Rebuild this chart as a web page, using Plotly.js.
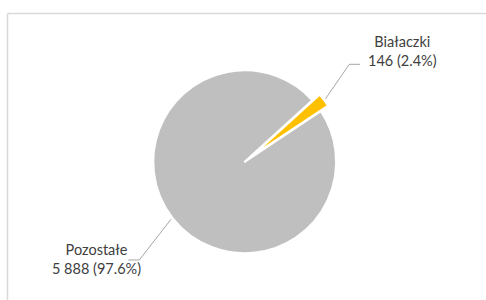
<!DOCTYPE html>
<html>
<head>
<meta charset="utf-8">
<script src="https://cdn.plot.ly/plotly-3.0.1.min.js"></script>
<style>html,body{margin:0;padding:0;background:#fff;}#chart{width:486px;height:300px;}</style>
</head>
<body>
<div id="chart"></div>
<script>
// ---- data ----
const labels = ['Białaczki', 'Pozostałe'];
const values = [146, 5888];
const colors = ['#FFC000', '#BFBFBF'];

// ---- layout parameters (pixels) ----
const W = 486, H = 300;
const cx = 244.7, cy = 161.8, R = 91.4;
const pulls = [0.1, 0];
const rotation = 47.7;
const maxPull = Math.max.apply(null, pulls);
const half = R * (1 + maxPull);

const px = x => x / W;
const py = y => 1 - y / H;

const total = values.reduce((a, b) => a + b, 0);
const fmt = v => String(v).replace(/\B(?=(\d{3})+(?!\d))/g, ' ');
const pct = v => (v / total * 100).toFixed(1) + '%';

// label placement (pixels): text center, elbow, end of horizontal segment
const labelPos = [
  {tx: 402, ty: 51, elbow: [349.3, 64.3], end: [360, 64.3]},
  {tx: 96, ty: 259, elbow: [139.3, 260], end: [128.3, 260]}
];

const annotations = [];
const shapes = [];
let cum = 0;
values.forEach((v, i) => {
  const mid = (rotation + (cum + v / 2) / total * 360) * Math.PI / 180;
  cum += v;
  const r = R * (1 + pulls[i]) + 2;
  const sx = cx + r * Math.sin(mid), sy = cy - r * Math.cos(mid);
  const L = labelPos[i];
  shapes.push({
    type: 'path', xref: 'paper', yref: 'paper',
    path: 'M' + px(sx) + ',' + py(sy) + ' L' + px(L.elbow[0]) + ',' + py(L.elbow[1]) +
          ' L' + px(L.end[0]) + ',' + py(L.end[1]),
    line: {color: '#A6A6A6', width: 1}
  });
  annotations.push({
    xref: 'paper', yref: 'paper', x: px(L.tx), y: py(L.ty),
    xanchor: 'center', yanchor: 'middle', showarrow: false, align: 'center',
    text: labels[i] + '<br>' + fmt(v) + ' (' + pct(v) + ')',
    font: {family: 'Lato, sans-serif', size: 14.5, color: '#404040'}
  });
});

// chart border (top and left visible)
shapes.push({type: 'line', xref: 'paper', yref: 'paper', x0: px(7.5), y0: py(13.5), x1: px(486), y1: py(13.5), line: {color: '#D9D9D9', width: 1.5}});
shapes.push({type: 'line', xref: 'paper', yref: 'paper', x0: px(7.5), y0: py(13.5), x1: px(7.5), y1: py(300), line: {color: '#D9D9D9', width: 1.5}});

const trace = {
  type: 'pie',
  labels: labels,
  values: values,
  sort: false,
  direction: 'clockwise',
  rotation: rotation,
  pull: pulls,
  textinfo: 'none',
  hoverinfo: 'label+value+percent',
  marker: {colors: colors, line: {color: '#FFFFFF', width: 2}},
  domain: {x: [px(cx - half), px(cx + half)], y: [py(cy + half), py(cy - half)]},
  showlegend: false
};

const layout = {
  width: W, height: H,
  margin: {l: 0, r: 0, t: 0, b: 0},
  paper_bgcolor: '#FFFFFF',
  showlegend: false,
  annotations: annotations,
  shapes: shapes
};

Plotly.newPlot('chart', [trace], layout, {displayModeBar: false, staticPlot: true});
</script>
</body>
</html>
